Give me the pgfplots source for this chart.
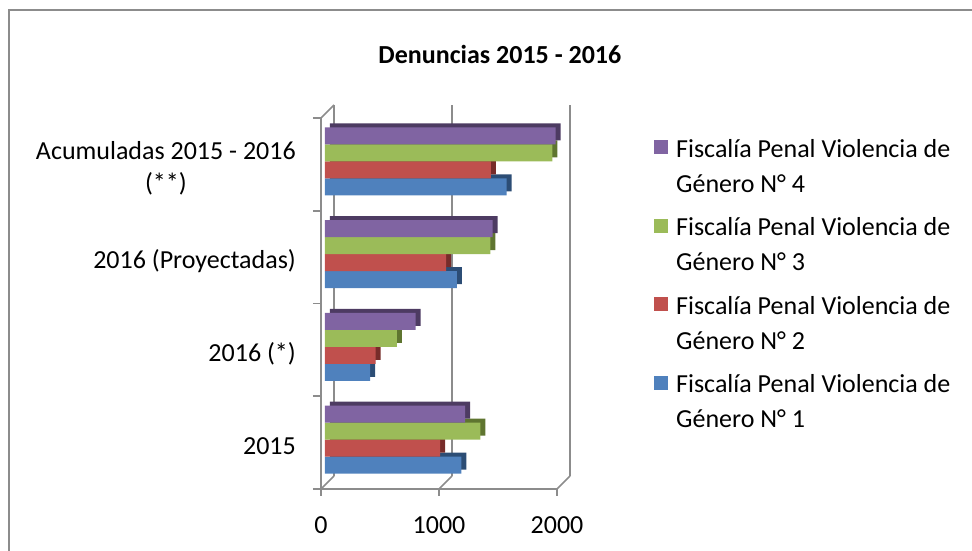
\documentclass[border=0pt]{standalone}
\usepackage{fontspec}
\setmainfont{Carlito}
\usepackage{pgfplots}
\usepackage{pgfplotstable}
\pgfplotsset{compat=1.18}
\definecolor{cBlue}{HTML}{4F81BD}
\definecolor{cRed}{HTML}{C0504D}
\definecolor{cGreen}{HTML}{9BBB59}
\definecolor{cPurple}{HTML}{8064A2}
\definecolor{dBlue}{HTML}{2C4D75}
\definecolor{dRed}{HTML}{772C2A}
\definecolor{dGreen}{HTML}{5F7530}
\definecolor{dPurple}{HTML}{4D3B62}
\definecolor{gridgray}{HTML}{8C8C8C}
\newcommand\chartfont{\fontsize{26}{31.6}\selectfont}
\newcommand\legtext[1]{\begin{tabular}[t]{@{}l@{}}Fiscalía Penal Violencia de\\[3.5pt]Género N° #1\end{tabular}}

% y: 0 = 2015, 1 = 2016 (*), 2 = 2016 (Proyectadas), 3 = Acumuladas
\pgfplotstableread{
cat  f1    f2    f3    f4
0    1156  976   1316  1187
1    383   430   610   768
2    1117  1027  1401  1421
3    1539  1406  1926  1955
}\data

\begin{document}
\begin{tikzpicture}
\path[use as bounding box] (0,0) rectangle (972pt,551pt);
\draw[gridgray, line width=2pt] (8.5pt,0pt) -- (8.5pt,540.5pt) -- (972pt,540.5pt);
\begin{axis}[
  at={(321pt,62pt)}, anchor=south west,
  scale only axis, width=236pt, height=371pt,
  xmin=0, xmax=2000, ymin=-0.5, ymax=3.5,
  clip=false,
  axis x line*=bottom, axis y line*=left,
  axis line style={-, draw=gridgray, line width=1.6pt},
  xtick={0,1000,2000}, xticklabels={0,1000,2000},
  xtick style={draw=gridgray, line width=1.6pt},
  tick align=outside, major tick length=7pt,
  xticklabel style={font=\chartfont, inner sep=0pt, yshift=-20pt},
  ytick={0,1,2,3},
  yticklabels={2015, 2016 (*), 2016 (Proyectadas), {Acumuladas 2015 - 2016\\(**)}},
  ytick style={draw=none},
  yticklabel style={font=\chartfont, align=center, inner sep=0pt, xshift=-18pt, yshift=-4pt},
  extra y ticks={-0.5,0.5,1.5,2.5,3.5},
  extra y tick labels={},
  extra y tick style={ytick style={draw=gridgray, line width=1.6pt}, major tick length=8pt},
  xmajorgrids=true, ymajorgrids=false,
  grid style={draw=gridgray, line width=1.6pt, xshift=13pt, yshift=13pt},
  title={Denuncias 2015 - 2016},
  title style={at={(0.758,1.131)}, anchor=base, font=\chartfont\bfseries, inner sep=0pt},
  legend style={at={(1.411,0.955)}, anchor=north west, draw=none, fill=none,
    inner sep=0pt, row sep=55pt, column sep=8pt, font=\chartfont,
    cells={anchor=base west}, nodes={inner sep=0pt}},
  reverse legend,
  shadow/.style={xbar, bar width=17pt, draw=none, xshift=9pt, yshift=7pt, forget plot},
  front/.style={xbar, bar width=17pt, draw=none, xshift=4pt, yshift=3pt},
]
% depth (side and top faces)
\addplot[shadow, bar shift=-25.5pt, fill=dBlue]   table[x=f1,y=cat]{\data};
\addplot[shadow, bar shift=-8.5pt,  fill=dRed]    table[x=f2,y=cat]{\data};
\addplot[shadow, bar shift=8.5pt,   fill=dGreen]  table[x=f3,y=cat]{\data};
\addplot[shadow, bar shift=25.5pt,  fill=dPurple] table[x=f4,y=cat]{\data};
% front faces
\addplot[front, bar shift=-25.5pt, fill=cBlue,
  legend image code/.code={\fill[cBlue] (0pt,0pt) rectangle (14pt,14pt);}] table[x=f1,y=cat]{\data};
\addlegendentry{\legtext{1}}
\addplot[front, bar shift=-8.5pt, fill=cRed,
  legend image code/.code={\fill[cRed] (0pt,0pt) rectangle (14pt,14pt);}] table[x=f2,y=cat]{\data};
\addlegendentry{\legtext{2}}
\addplot[front, bar shift=8.5pt, fill=cGreen,
  legend image code/.code={\fill[cGreen] (0pt,0pt) rectangle (14pt,14pt);}] table[x=f3,y=cat]{\data};
\addlegendentry{\legtext{3}}
\addplot[front, bar shift=25.5pt, fill=cPurple,
  legend image code/.code={\fill[cPurple] (0pt,0pt) rectangle (14pt,14pt);}] table[x=f4,y=cat]{\data};
\addlegendentry{\legtext{4}}
% 3D wall and floor edges
\draw[gridgray, line width=1.6pt] (axis cs:0,3.5) -- ++(13pt,13pt);
\draw[gridgray, line width=1.6pt] (axis cs:0,-0.5) -- ++(13pt,13pt);
\draw[gridgray, line width=1.6pt] (axis cs:1000,-0.5) -- ++(13pt,13pt);
\draw[gridgray, line width=1.6pt] (axis cs:2000,-0.5) -- ++(13pt,13pt);
\end{axis}
\end{tikzpicture}
\end{document}
